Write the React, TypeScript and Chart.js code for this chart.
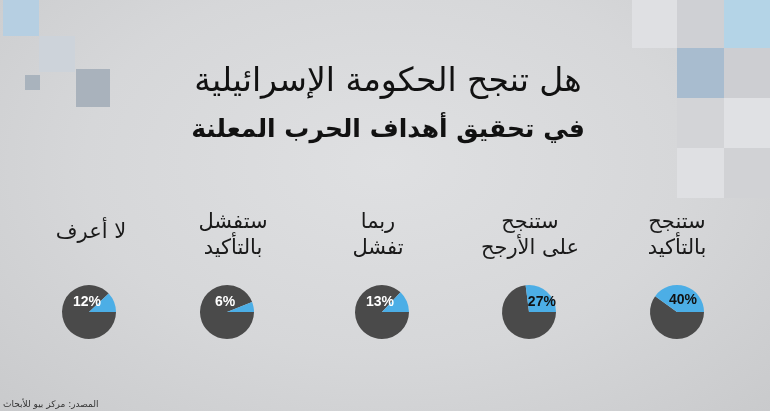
import React, { useEffect, useRef } from "react";
import { Chart, registerables } from "chart.js";

Chart.register(...registerables);

// Data
const categories: string[][] = [
  ["لا أعرف"],
  ["ستفشل", "بالتأكيد"],
  ["ربما", "تفشل"],
  ["ستنجح", "على الأرجح"],
  ["ستنجح", "بالتأكيد"],
];
const percentValues: number[] = [12, 6, 13, 27, 40];
const titleLine1 = "هل تنجح الحكومة الإسرائيلية";
const titleLine2 = "في تحقيق أهداف الحرب المعلنة";
const sourceText = "المصدر: مركز بيو للأبحاث";

// Layout (not data)
const pieCentersX = [89, 227, 382, 529, 677];
const labelCentersX = [91, 233, 378, 530, 677];
const PIE_CY = 312;
const PIE_R = 27;
const CANVAS = 80;

const BLUE = "#4caee6";
const DARK = "#4a4a4a";

const ARABIC_FONT = '"DejaVu Sans", "Noto Sans", sans-serif';

const percentLabelPlugin = {
  id: "percentLabel",
  afterDatasetsDraw(chart: any) {
    const meta = chart.getDatasetMeta(0);
    const arc = meta.data[0];
    if (!arc) return;
    const { x, y, outerRadius } = arc.getProps(["x", "y", "outerRadius"], true);
    const p = chart.data.datasets[0].data[1] as number;
    const ctx = chart.ctx;
    ctx.save();
    ctx.font = 'bold 14px "Liberation Sans", Arial, sans-serif';
    ctx.textAlign = "center";
    ctx.textBaseline = "middle";
    let tx: number, ty: number;
    if (p >= 20) {
      const ang = ((p / 100) * Math.PI * 2) / 2;
      tx = x + Math.cos(ang) * outerRadius * 0.72;
      ty = y - Math.sin(ang) * outerRadius * 0.48;
      ctx.fillStyle = "#111111";
    } else {
      tx = x - 2;
      ty = y - 10;
      ctx.fillStyle = "#ffffff";
    }
    ctx.fillText(`${p}%`, tx, ty);
    ctx.restore();
  },
};

function PieChart({ value }: { value: number }) {
  const ref = useRef<HTMLCanvasElement | null>(null);
  useEffect(() => {
    if (!ref.current) return;
    const chart = new Chart(ref.current, {
      type: "pie",
      data: {
        labels: ["rest", "value"],
        datasets: [
          {
            data: [100 - value, value],
            backgroundColor: [DARK, BLUE],
            borderWidth: 0,
          },
        ],
      },
      options: {
        animation: false,
        responsive: false,
        rotation: 90,
        layout: { padding: (CANVAS - PIE_R * 2) / 2 },
        plugins: {
          legend: { display: false },
          tooltip: { enabled: false },
          title: { display: false },
        },
        events: [],
      },
      plugins: [percentLabelPlugin],
    });
    return () => chart.destroy();
  }, [value]);
  return <canvas ref={ref} width={CANVAS} height={CANVAS} style={{ width: CANVAS, height: CANVAS }} />;
}

const squares: { x: number; y: number; w: number; h: number; c: string }[] = [
  { x: 3, y: 0, w: 36, h: 36, c: "#b6cfe2" },
  { x: 39, y: 36, w: 36, h: 36, c: "#cdd3da" },
  { x: 25, y: 75, w: 15, h: 15, c: "#a9b3bd" },
  { x: 76, y: 69, w: 34, h: 38, c: "#a9b2bc" },
  { x: 632, y: 0, w: 45, h: 48, c: "#dfe0e3" },
  { x: 677, y: 0, w: 47, h: 48, c: "#cfd0d4" },
  { x: 724, y: 0, w: 46, h: 48, c: "#b4d4e7" },
  { x: 677, y: 48, w: 47, h: 50, c: "#a8bccf" },
  { x: 724, y: 48, w: 46, h: 50, c: "#cdced2" },
  { x: 677, y: 98, w: 47, h: 50, c: "#d3d4d7" },
  { x: 724, y: 98, w: 46, h: 50, c: "#e0e1e4" },
  { x: 677, y: 148, w: 47, h: 50, c: "#dfe0e3" },
  { x: 724, y: 148, w: 46, h: 50, c: "#d1d2d5" },
];

export default function App() {
  return (
    <div
      style={{
        position: "fixed",
        left: 0,
        top: 0,
        width: 770,
        height: 411,
        overflow: "hidden",
        background: "radial-gradient(ellipse at 50% 40%, #dfe0e2 0%, #d6d7d9 55%, #c9cacc 100%)",
        fontFamily: ARABIC_FONT,
      }}
    >
      {squares.map((s, i) => (
        <div
          key={i}
          style={{ position: "absolute", left: s.x, top: s.y, width: s.w, height: s.h, background: s.c }}
        />
      ))}
      <div
        dir="rtl"
        style={{
          position: "absolute",
          left: 0,
          width: 770,
          top: 57,
          textAlign: "center",
          fontSize: 33,
          lineHeight: "46px",
          color: "#111",
          paddingLeft: 6,
          boxSizing: "border-box",
          whiteSpace: "nowrap",
        }}
      >
        {titleLine1}
      </div>
      <div
        dir="rtl"
        style={{
          position: "absolute",
          left: 0,
          width: 770,
          top: 109,
          textAlign: "center",
          fontSize: 25,
          fontWeight: "bold",
          lineHeight: "40px",
          color: "#111",
          paddingLeft: 6,
          boxSizing: "border-box",
          whiteSpace: "nowrap",
        }}
      >
        {titleLine2}
      </div>
      {categories.map((lines, i) => (
        <div
          key={i}
          dir="rtl"
          style={{
            position: "absolute",
            left: labelCentersX[i] - 70,
            width: 140,
            top: lines.length === 1 ? 218 : 208,
            textAlign: "center",
            fontSize: 21,
            lineHeight: "26px",
            color: "#1a1a1a",
          }}
        >
          {lines.map((l, j) => (
            <div key={j}>{l}</div>
          ))}
        </div>
      ))}
      {percentValues.map((v, i) => (
        <div
          key={i}
          style={{
            position: "absolute",
            left: pieCentersX[i] - CANVAS / 2,
            top: PIE_CY - CANVAS / 2,
            width: CANVAS,
            height: CANVAS,
          }}
        >
          <PieChart value={v} />
        </div>
      ))}
      <div
        dir="rtl"
        style={{
          position: "absolute",
          left: 3,
          top: 397,
          fontSize: 9,
          lineHeight: "14px",
          color: "#333",
          whiteSpace: "nowrap",
        }}
      >
        {sourceText}
      </div>
    </div>
  );
}
